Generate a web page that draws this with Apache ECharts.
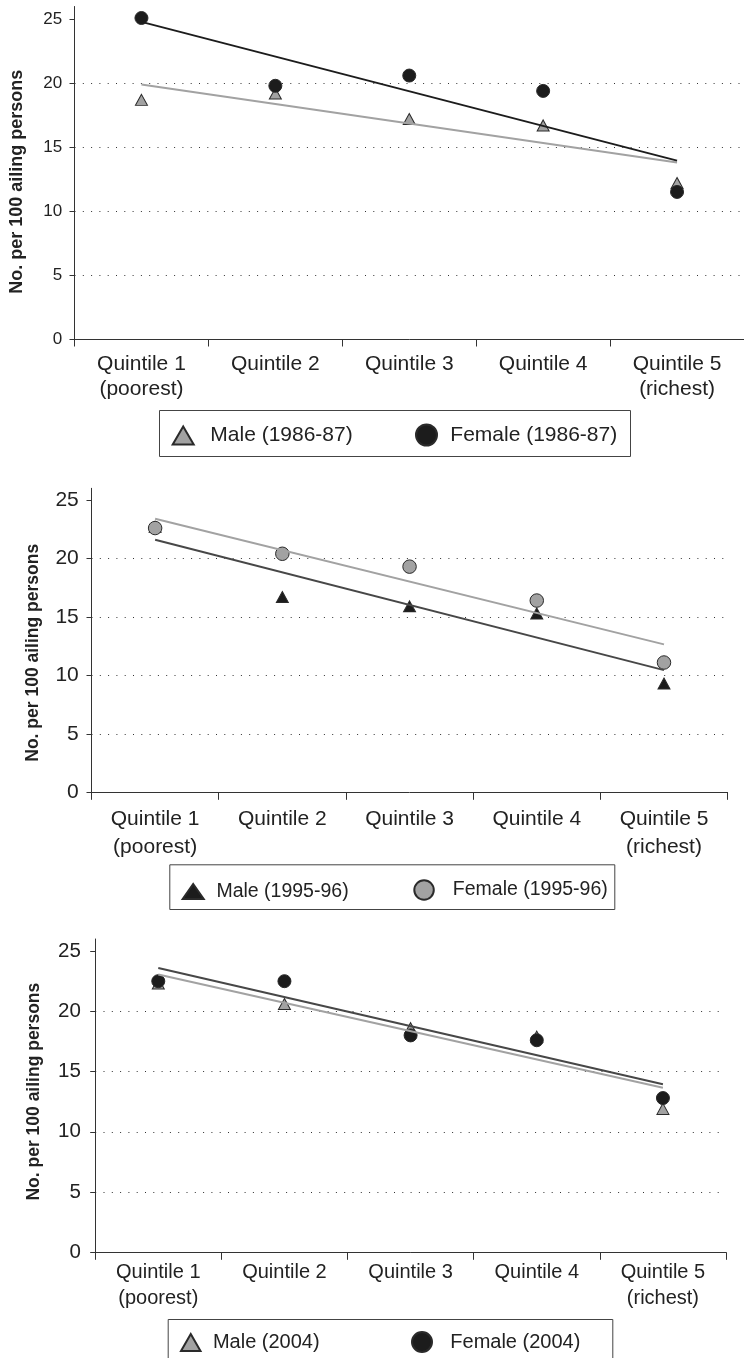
<!DOCTYPE html>
<html>
<head>
<meta charset="utf-8">
<script src="https://cdn.jsdelivr.net/npm/echarts@6/dist/echarts.min.js"></script>
<style>
html,body{margin:0;padding:0;background:#fff;}
#chart{width:744px;height:1358px;}
</style>
</head>
<body>
<div id="chart"></div>
<script>
// ---- data ----
const categories = ['Quintile 1\n(poorest)', 'Quintile 2', 'Quintile 3', 'Quintile 4', 'Quintile 5\n(richest)'];
const yTicks = [0, 5, 10, 15, 20, 25];
const yTitle = 'No. per 100 ailing persons';

const names1 = ['Male (1986-87)', 'Female (1986-87)'];
const male1 = [18.7, 19.2, 17.2, 16.7, 12.2];
const female1 = [25.1, 19.8, 20.6, 19.4, 11.5];
const trendMale1 = [19.9, 13.8];
const trendFemale1 = [24.8, 13.95];

const names2 = ['Male (1995-96)', 'Female (1995-96)'];
const male2 = [22.7, 16.7, 15.9, 15.3, 9.3];
const female2 = [22.6, 20.4, 19.3, 16.4, 11.1];
const trendMale2 = [21.6, 10.45];
const trendFemale2 = [23.4, 12.65];

const names3 = ['Male (2004)', 'Female (2004)'];
const male3 = [22.3, 20.6, 18.6, 17.9, 11.9];
const female3 = [22.5, 22.5, 18.0, 17.6, 12.8];
const trendMale3 = [23.05, 13.65];
const trendFemale3 = [23.6, 13.95];

// ---- styling / layout ----
const FONT = 'Liberation Sans, Arial, sans-serif';
const TXT = '#222';
const AX = '#333';
const LIGHT = '#a2a2a2';
const DARK = '#1c1c1c';
const MID = '#474747';

const panels = [
  { grid: {left: 71.5, top: 6.5, width: 675.5, height: 332.5},
    xFont: 21, xLH: 25, xMargin: 12.3, yFont: 17, yMargin: 12.4,
    nameFont: 18, nameGap: 48.5, namePad: [0, 18, 0, 0] },
  { grid: {left: 91.5, top: 488.3, width: 636.1, height: 304},
    xFont: 21, xLH: 28, xMargin: 12.9, yFont: 21, yMargin: 12.7,
    nameFont: 17.5, nameGap: 49.5, namePad: [0, 25, 0, 0] },
  { grid: {left: 95.2, top: 939, width: 630.8, height: 313.3},
    xFont: 20, xLH: 26.6, xMargin: 6.4, yFont: 20.5, yMargin: 14.3,
    nameFont: 17.5, nameGap: 52.5, namePad: [0, 0, 0, 8] }
];

const grids = [], xAxes = [], yAxes = [];
panels.forEach(function (p) {
  grids.push(Object.assign({containLabel: false}, p.grid));
  xAxes.push({
    type: 'category', gridIndex: grids.length - 1, data: categories, boundaryGap: true,
    axisLine: {lineStyle: {color: AX, width: 1}},
    axisTick: {show: true, length: 7.5, inside: false, lineStyle: {color: AX}},
    axisLabel: {color: TXT, fontFamily: FONT, fontSize: p.xFont, lineHeight: p.xLH, margin: p.xMargin, interval: 0},
    splitLine: {show: false}
  });
  yAxes.push({
    type: 'value', gridIndex: grids.length - 1, min: 0, max: 26, interval: 5,
    name: yTitle, nameLocation: 'middle', nameGap: p.nameGap,
    nameTextStyle: {fontFamily: FONT, fontWeight: 'bold', fontSize: p.nameFont, color: TXT, padding: p.namePad},
    axisLine: {show: true, lineStyle: {color: AX, width: 1}},
    axisTick: {show: true, length: 5, lineStyle: {color: AX}, customValues: yTicks},
    axisLabel: {color: TXT, fontFamily: FONT, fontSize: p.yFont, margin: p.yMargin, customValues: yTicks,
      formatter: function (v) { return (v % 5 === 0) ? String(v) : ''; }},
    splitLine: {show: true, showMaxLine: false, lineStyle: {color: '#333', width: 1, type: [1, 7.3]}}
  });
});

function trendData(t) {
  return [[categories[0], t[0]], [categories[categories.length - 1], t[1]]];
}
function scatter(name, idx, values, symbol, size, fill) {
  return {
    type: 'scatter', name: name, xAxisIndex: idx, yAxisIndex: idx,
    data: values, symbol: symbol, symbolSize: size,
    itemStyle: {color: fill, borderColor: '#2a2a2a', borderWidth: 1, opacity: 1},
    z: 3, silent: true
  };
}
function trend(name, idx, t, color) {
  return {
    type: 'line', name: name, xAxisIndex: idx, yAxisIndex: idx,
    data: trendData(t), symbol: 'none', showSymbol: false,
    lineStyle: {color: color, width: 2}, itemStyle: {color: color},
    z: 4, silent: true
  };
}

const series = [
  scatter(names1[0], 0, male1, 'triangle', [12, 11], LIGHT),
  scatter(names1[1], 0, female1, 'circle', 13, DARK),
  trend('trend m1', 0, trendMale1, LIGHT),
  trend('trend f1', 0, trendFemale1, DARK),

  scatter(names2[0], 1, male2, 'triangle', [12, 11], DARK),
  scatter(names2[1], 1, female2, 'circle', 13.5, LIGHT),
  trend('trend m2', 1, trendMale2, MID),
  trend('trend f2', 1, trendFemale2, LIGHT),

  scatter(names3[0], 2, male3, 'triangle', [12, 11], LIGHT),
  scatter(names3[1], 2, female3, 'circle', 13, DARK),
  trend('trend m3', 2, trendMale3, LIGHT),
  trend('trend f3', 2, trendFemale3, MID)
];

function legendItem(name, left, cy, w, h, fontSize, padLeft) {
  return {
    data: [name], left: left, top: cy - h / 2, orient: 'horizontal',
    itemWidth: w, itemHeight: h, padding: 0, selectedMode: false,
    textStyle: {color: TXT, fontFamily: FONT, fontSize: fontSize, lineHeight: h, padding: [0, 0, 0, padLeft]}
  };
}
const legends = [
  legendItem(names1[0], 171.7, 434, 21, 18, 21, 11.6),
  legendItem(names1[1], 415, 434, 21, 21, 21, 8.3),
  legendItem(names2[0], 181.7, 889, 21, 15, 19.5, 7.7),
  legendItem(names2[1], 413.3, 889, 19.5, 19.5, 19.5, 14),
  legendItem(names3[0], 180, 1341, 19.5, 17, 20, 7.4),
  legendItem(names3[1], 411, 1341, 20, 20, 20, 13.3)
];

const boxes = [
  {x: 159, y: 410, w: 471, h: 46},
  {x: 169.3, y: 864.3, w: 445, h: 44.7},
  {x: 167.7, y: 1319, w: 444.6, h: 60}
];

const chart = echarts.init(document.getElementById('chart'), null, {renderer: 'canvas'});
chart.setOption({
  animation: false,
  backgroundColor: '#fff',
  grid: grids,
  xAxis: xAxes,
  yAxis: yAxes,
  legend: legends,
  series: series,
  graphic: boxes.map(function (b) {
    return {type: 'rect', shape: {x: b.x + 0.5, y: b.y + 0.5, width: b.w, height: b.h},
      style: {fill: 'none', stroke: '#444', lineWidth: 1}, silent: true, z: -1};
  })
});
</script>
</body>
</html>
